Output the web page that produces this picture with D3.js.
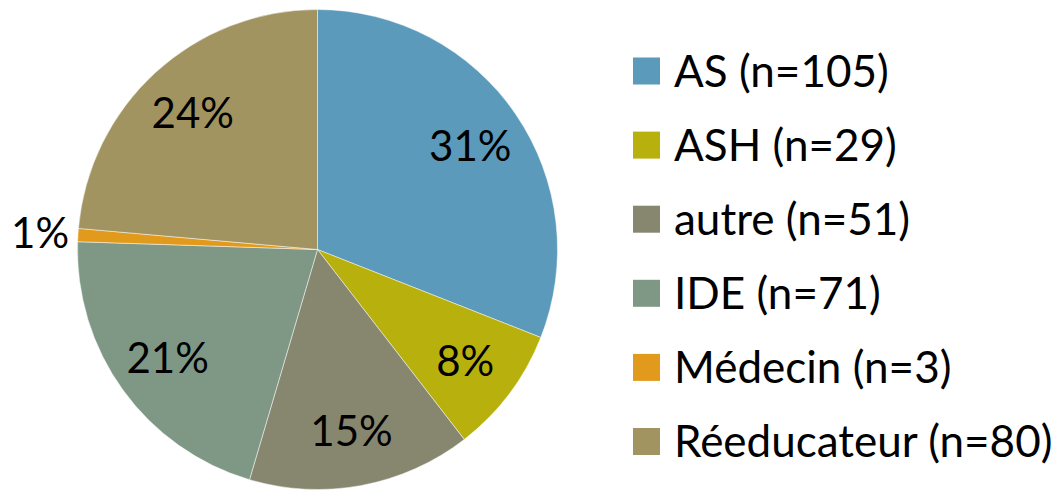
<!DOCTYPE html>
<html>
<head>
<meta charset="utf-8">
<script src="https://cdn.jsdelivr.net/npm/d3@7"></script>
<style>
  body { margin: 0; background: #fff; }
  text { font-family: Lato, "Open Sans", sans-serif; fill: #000; }
</style>
</head>
<body>
<div id="chart"></div>
<script>
// data
const categories = ["AS", "ASH", "autre", "IDE", "Médecin", "Réeducateur"];
const counts = [105, 29, 51, 71, 3, 80];
const pctLabels = ["31%", "8%", "15%", "21%", "1%", "24%"];
const colors = ["#5b9aba", "#b8b00c", "#878770", "#7f9886", "#e29a1c", "#a19460"];

const width = 1063, height = 490;
const cx = 317.5, cy = 249.5, radius = 240;

const svg = d3.select("#chart")
  .append("svg")
  .attr("width", width)
  .attr("height", height);

const g = svg.append("g")
  .attr("transform", "translate(" + cx + "," + cy + ")");

const pie = d3.pie().sort(null).value(d => d.count);
const data = categories.map((c, i) => ({name: c, count: counts[i], label: pctLabels[i], color: colors[i]}));
const arcs = pie(data);

const arc = d3.arc().innerRadius(0).outerRadius(radius);
const labelArc = d3.arc().innerRadius(radius * 0.77).outerRadius(radius * 0.77);
const outerArc = d3.arc().innerRadius(radius * 1.158).outerRadius(radius * 1.158);

g.selectAll("path.slice")
  .data(arcs)
  .enter().append("path")
  .attr("class", "slice")
  .attr("d", arc)
  .attr("fill", d => d.data.color)
  .attr("stroke", "#fff")
  .attr("stroke-width", 0.8)
  .attr("stroke-opacity", 0.6);

// percentage labels, the tiny slice goes outside
g.selectAll("text.pct")
  .data(arcs)
  .enter().append("text")
  .attr("class", "pct")
  .attr("transform", d => {
    const small = (d.endAngle - d.startAngle) < 0.2;
    const p = small ? outerArc.centroid(d) : labelArc.centroid(d);
    return "translate(" + p[0] + "," + p[1] + ")";
  })
  .attr("text-anchor", "middle")
  .attr("dy", "0.36em")
  .style("font-size", "42px")
  .text(d => d.data.label);

// legend
const legend = svg.append("g").attr("transform", "translate(633,71)");
const rowY = d3.scalePoint().domain(categories).range([0, 370.5]);

const rows = legend.selectAll("g.row")
  .data(data)
  .enter().append("g")
  .attr("class", "row")
  .attr("transform", d => "translate(0," + rowY(d.name) + ")");

rows.append("rect")
  .attr("x", 0).attr("y", -13.5)
  .attr("width", 27).attr("height", 27)
  .attr("fill", d => d.color);

rows.append("text")
  .attr("x", 41)
  .attr("y", 0)
  .attr("dy", "0.36em")
  .style("font-size", "44px")
  .text(d => d.name + " (n=" + d.count + ")");
</script>
</body>
</html>
